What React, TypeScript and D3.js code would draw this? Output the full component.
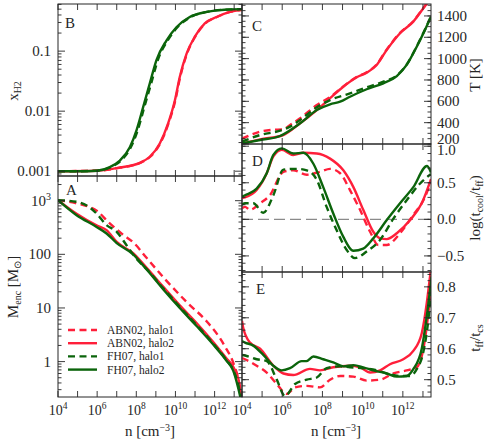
import React from 'react';
import * as d3 from 'd3';

type Pt = [number, number]; // [log10 n, value]

const RED = '#ff1f3a';
const GREEN = '#0b640b';
const SERIF = "'Liberation Serif', 'Times New Roman', serif";
const INK = '#262626';

// x axis, log10 of n [cm^-3]
const nExpRange = [4, 13.4];
const nTickExp = [4, 5, 6, 7, 8, 9, 10, 11, 12, 13];
const nLabelExp = [4, 6, 8, 10, 12];

// B: H2 fraction
const xh2Abn1: Pt[] = [[4, 0.001], [6, 0.00102], [7.18, 0.00115], [8.2, 0.00138], [8.71, 0.00174], [9.22, 0.0029], [9.65, 0.0063], [9.99, 0.015], [10.24, 0.037], [10.59, 0.091], [11.01, 0.174], [11.52, 0.29], [12.12, 0.37], [12.8, 0.45], [13.4, 0.49]];
const xh2Abn2: Pt[] = [[4, 0.001], [6, 0.00102], [7.16, 0.00115], [8.18, 0.00138], [8.69, 0.00174], [9.2, 0.0029], [9.63, 0.0063], [9.97, 0.015], [10.22, 0.037], [10.57, 0.091], [10.99, 0.174], [11.5, 0.29], [12.1, 0.37], [12.78, 0.45], [13.4, 0.49]];
const xh2Fh1: Pt[] = [[4, 0.001], [5, 0.001], [6, 0.00102], [6.7, 0.00117], [7.21, 0.0015], [7.72, 0.0025], [8.07, 0.0048], [8.41, 0.0117], [8.76, 0.029], [9.1, 0.071], [9.6, 0.15], [10.1, 0.25], [10.78, 0.37], [11.62, 0.45], [12.5, 0.49], [13.4, 0.5]];
const xh2Fh2: Pt[] = [[4, 0.001], [5, 0.001], [6, 0.00102], [6.65, 0.00117], [7.16, 0.0015], [7.67, 0.0025], [8.01, 0.0048], [8.35, 0.0117], [8.69, 0.029], [9.03, 0.071], [9.54, 0.15], [10.05, 0.25], [10.73, 0.37], [11.59, 0.45], [12.5, 0.49], [13.4, 0.5]];

// A: enclosed mass [Msun]
const mencAbn1: Pt[] = [[4, 1023], [4.9, 900], [5.5, 790], [6.0, 640], [6.6, 390], [7.3, 236], [7.9, 160], [8.5, 88], [9.46, 34.7], [10.6, 12.6], [11.6, 5.6], [12.5, 2.0], [13.0, 0.85], [13.25, 0.4], [13.38, 0.17]];
const mencAbn2: Pt[] = [[4, 1023], [4.95, 570], [5.97, 347], [6.48, 282], [7.0, 170], [7.84, 105], [8.53, 56], [9.37, 25], [10.22, 11.2], [11.08, 5.25], [11.92, 2.34], [12.6, 1.15], [13.03, 0.71], [13.29, 0.35], [13.38, 0.18]];
const mencFh1: Pt[] = [[4, 1023], [4.95, 955], [5.5, 800], [5.97, 575], [6.48, 350], [7.0, 263], [7.5, 148], [8.0, 83], [8.53, 53], [9.37, 23.5], [10.22, 10.5], [11.08, 4.8], [11.92, 2.2], [12.6, 1.07], [12.95, 0.7], [13.25, 0.32], [13.38, 0.17]];
const mencFh2: Pt[] = [[4, 1023], [4.95, 537], [5.97, 324], [6.48, 245], [7.0, 162], [7.84, 100], [8.53, 52], [9.37, 22.4], [10.22, 10], [11.08, 4.6], [11.92, 2.1], [12.6, 1.05], [12.95, 0.68], [13.2, 0.33], [13.38, 0.17]];

// C: temperature [K]
const tempAbn1: Pt[] = [[4, 250], [4.5, 290], [4.9, 316], [5.5, 333], [6.05, 337], [6.39, 378], [6.89, 441], [7.72, 565], [8.38, 640], [9.04, 740], [9.71, 829], [10.2, 872], [10.7, 946], [11.2, 1086], [11.86, 1242], [12.52, 1351], [13.02, 1476], [13.3, 1547]];
const tempAbn2: Pt[] = [[4, 205], [4.9, 244], [6.05, 284], [6.89, 394], [7.72, 518], [8.38, 629], [9.04, 737], [9.71, 825], [10.2, 868], [10.7, 941], [11.2, 1082], [11.86, 1238], [12.52, 1347], [13.02, 1472], [13.3, 1543]];
const tempFh1: Pt[] = [[4, 222], [4.9, 284], [5.89, 325], [6.39, 363], [6.89, 425], [7.72, 544], [8.38, 612], [9.37, 674], [10.2, 732], [11.03, 784], [11.7, 842], [12.19, 945], [12.69, 1115], [13.1, 1272], [13.4, 1397]];
const tempFh2: Pt[] = [[4, 205], [4.9, 237], [5.89, 275], [6.89, 394], [7.72, 518], [8.38, 572], [8.88, 596], [9.37, 643], [10.2, 713], [11.03, 769], [11.7, 837], [12.19, 941], [12.69, 1112], [13.1, 1269], [13.4, 1394]];

// D: log(t_cool / t_ff)
const coolAbn1: Pt[] = [[4, 0.15], [4.15, 0.17], [4.4, 0.13], [4.9, 0.22], [5.39, 0.33], [6.06, 0.65], [6.55, 0.67], [7.22, 0.61], [7.88, 0.65], [8.38, 0.69], [8.88, 0.63], [9.37, 0.4], [9.87, 0.13], [10.37, -0.17], [10.78, -0.35], [11.2, -0.35], [11.86, -0.19], [12.52, 0.06], [13.02, 0.26], [13.4, 0.51]];
const coolAbn2: Pt[] = [[4, 0.29], [4.15, 0.3], [4.73, 0.4], [5.23, 0.63], [5.56, 0.86], [5.98, 0.95], [6.55, 0.88], [7.05, 0.91], [7.72, 0.9], [8.38, 0.83], [9.04, 0.67], [9.54, 0.44], [10.03, 0.13], [10.53, -0.17], [10.87, -0.26], [11.2, -0.27], [11.7, -0.19], [12.36, -0.01], [12.94, 0.22], [13.4, 0.55]];
const coolFh1: Pt[] = [[4, 0.2], [4.15, 0.22], [4.56, 0.22], [5.06, 0.09], [5.56, 0.33], [6.06, 0.68], [6.72, 0.69], [7.22, 0.67], [7.72, 0.54], [8.21, 0.17], [8.71, -0.15], [9.21, -0.42], [9.62, -0.53], [10.2, -0.44], [10.87, -0.28], [11.53, 0.01], [12.19, 0.26], [12.86, 0.49], [13.4, 0.62]];
const coolFh2: Pt[] = [[4, 0.31], [4.15, 0.33], [4.73, 0.42], [5.23, 0.63], [5.56, 0.88], [5.98, 0.97], [6.55, 0.9], [7.05, 0.91], [7.55, 0.76], [8.04, 0.44], [8.54, 0.08], [9.04, -0.24], [9.54, -0.43], [10.03, -0.4], [10.53, -0.26], [11.2, -0.01], [11.86, 0.22], [12.52, 0.44], [13.2, 0.73], [13.4, 0.64]];

// E: t_ff / t_cs
const tffAbn1: Pt[] = [[4, 0.57], [4.15, 0.566], [4.73, 0.545], [5.23, 0.523], [5.73, 0.486], [6.22, 0.454], [6.64, 0.475], [7.22, 0.48], [7.88, 0.475], [8.38, 0.5], [8.88, 0.512], [9.54, 0.51], [10.2, 0.497], [10.87, 0.5], [11.53, 0.52], [12.19, 0.53], [12.69, 0.54], [13.02, 0.6], [13.27, 0.716], [13.43, 0.82]];
const tffAbn2: Pt[] = [[4, 0.69], [4.06, 0.668], [4.4, 0.62], [4.9, 0.6], [5.56, 0.545], [6.06, 0.52], [6.55, 0.515], [7.38, 0.535], [7.88, 0.53], [8.54, 0.54], [9.37, 0.545], [9.87, 0.54], [10.37, 0.523], [10.87, 0.53], [11.36, 0.55], [12.02, 0.566], [12.52, 0.593], [12.94, 0.65], [13.19, 0.748], [13.35, 0.833], [13.4, 0.86]];
const tffFh1: Pt[] = [[4, 0.58], [4.15, 0.578], [4.73, 0.566], [5.23, 0.56], [5.73, 0.5], [6.14, 0.447], [6.64, 0.486], [7.22, 0.5], [7.72, 0.507], [8.21, 0.537], [8.88, 0.543], [9.37, 0.54], [10.03, 0.537], [10.7, 0.53], [11.2, 0.52], [11.86, 0.512], [12.36, 0.512], [12.69, 0.534], [13.02, 0.59], [13.27, 0.695], [13.43, 0.81]];
const tffFh2: Pt[] = [[4, 0.625], [4.15, 0.62], [4.56, 0.61], [5.06, 0.58], [5.56, 0.545], [5.98, 0.53], [6.39, 0.537], [6.97, 0.56], [7.2, 0.56], [7.55, 0.575], [8.04, 0.566], [8.54, 0.556], [9.04, 0.543], [9.54, 0.547], [10.03, 0.54], [10.53, 0.53], [11.2, 0.52], [11.7, 0.51], [12.19, 0.512], [12.52, 0.534], [12.94, 0.6], [13.19, 0.705], [13.43, 0.833]];

const legendNames = ['ABN02, halo1', 'ABN02, halo2', 'FH07, halo1', 'FH07, halo2'];
const legendColors = [RED, RED, GREEN, GREEN];
const legendDashed = [true, false, true, false];

type Series = { data: Pt[]; color: string; dashed: boolean };
const mk = (sets: Pt[][]): Series[] =>
  sets.map((data, i) => ({ data, color: legendColors[i], dashed: legendDashed[i] }));

type Label = { v: number; text: string; sup?: string; shift?: number };
type PanelCfg = {
  id: string;
  letter: string;
  lx: number;
  ly: number;
  x0: number;
  x1: number;
  y0: number;
  y1: number;
  log: boolean;
  domain: [number, number];
  minorStep?: number;
  majorStep?: number;
  side: 'left' | 'right';
  labels: Label[];
  xLabels: boolean;
  zero?: boolean;
  series: Series[];
};

function logTicks(domain: [number, number]) {
  const major: number[] = [];
  const minor: number[] = [];
  const lo = Math.floor(Math.log10(domain[0]));
  const hi = Math.ceil(Math.log10(domain[1]));
  for (let d = lo; d <= hi; d++) {
    for (let k = 1; k < 10; k++) {
      const v = k * Math.pow(10, d);
      if (v < domain[0] || v > domain[1]) continue;
      if (k === 1) major.push(v);
      else minor.push(v);
    }
  }
  return { major, minor };
}

function Panel({ p }: { p: PanelCfg }) {
  const x = d3.scaleLog().domain([10 ** nExpRange[0], 10 ** nExpRange[1]]).range([p.x0, p.x1]);
  const y = p.log
    ? d3.scaleLog().domain(p.domain).range([p.y1, p.y0])
    : d3.scaleLinear().domain(p.domain).range([p.y1, p.y0]);
  const line = d3
    .line<Pt>()
    .x((d) => x(10 ** d[0]))
    .y((d) => y(d[1]))
    .curve(d3.curveMonotoneX);

  let major: number[];
  let minor: number[];
  if (p.log) {
    ({ major, minor } = logTicks(p.domain));
  } else {
    const eps = 1e-9;
    const first = (step: number) => Math.ceil((p.domain[0] - eps) / step) * step;
    major = d3.range(first(p.majorStep!), p.domain[1] + eps, p.majorStep!);
    minor = d3.range(first(p.minorStep!), p.domain[1] + eps, p.minorStep!);
  }
  const clipId = 'clip-' + p.id;

  return (
    <g>
      <defs>
        <clipPath id={clipId}>
          <rect x={p.x0} y={p.y0} width={p.x1 - p.x0} height={p.y1 - p.y0} />
        </clipPath>
      </defs>
      <g clipPath={`url(#${clipId})`}>
        {p.zero && (
          <line x1={p.x0} x2={p.x1} y1={y(0)} y2={y(0)} stroke="#8a8a8a" strokeWidth={1.3} strokeDasharray="11 5" />
        )}
        {p.series.map((s, i) => (
          <path
            key={i}
            d={line(s.data) || ''}
            fill="none"
            stroke={s.color}
            strokeWidth={2.4}
            strokeDasharray={s.dashed ? '7 4.5' : undefined}
          />
        ))}
      </g>
      <g stroke={INK} strokeWidth={0.9}>
        {minor.map((v, i) => (
          <g key={'mi' + i}>
            <line x1={p.x0} x2={p.x0 + 3.5} y1={y(v)} y2={y(v)} />
            <line x1={p.x1} x2={p.x1 - 3.5} y1={y(v)} y2={y(v)} />
          </g>
        ))}
        {major.map((v, i) => (
          <g key={'ma' + i}>
            <line x1={p.x0} x2={p.x0 + 7} y1={y(v)} y2={y(v)} />
            <line x1={p.x1} x2={p.x1 - 7} y1={y(v)} y2={y(v)} />
          </g>
        ))}
        {nTickExp.map((e) => (
          <g key={'x' + e}>
            <line x1={x(10 ** e)} x2={x(10 ** e)} y1={p.y0} y2={p.y0 + 6} />
            <line x1={x(10 ** e)} x2={x(10 ** e)} y1={p.y1} y2={p.y1 - 6} />
          </g>
        ))}
      </g>
      <rect x={p.x0} y={p.y0} width={p.x1 - p.x0} height={p.y1 - p.y0} fill="none" stroke={INK} strokeWidth={1} />
      <text x={p.lx} y={p.ly} fontSize={15} fill={INK}>
        {p.letter}
      </text>
      {p.labels.map((l, i) => (
        <text
          key={i}
          x={p.side === 'left' ? p.x0 - 7 : p.x1 + 6}
          y={y(l.v) + 5 + (l.shift || 0)}
          fontSize={15}
          fill={INK}
          textAnchor={p.side === 'left' ? 'end' : 'start'}
        >
          {l.text}
          {l.sup && (
            <tspan fontSize={10} dy={-6}>
              {l.sup}
            </tspan>
          )}
        </text>
      ))}
      {p.xLabels &&
        nLabelExp.map((e) => (
          <text key={'xl' + e} x={x(10 ** e)} y={415} fontSize={14} fill={INK} textAnchor="middle">
            10
            <tspan fontSize={9.5} dy={-6}>
              {e}
            </tspan>
          </text>
        ))}
    </g>
  );
}

export default function App() {
  const panels: PanelCfg[] = [
    {
      id: 'B', letter: 'B', lx: 65, ly: 28, x0: 58, x1: 242, y0: 4, y1: 176,
      log: true, domain: [10 ** -3.08, 10 ** -0.215], side: 'left',
      labels: [{ v: 0.001, text: '0.001' }, { v: 0.01, text: '0.01' }, { v: 0.1, text: '0.1' }],
      xLabels: false, series: mk([xh2Abn1, xh2Abn2, xh2Fh1, xh2Fh2]),
    },
    {
      id: 'A', letter: 'A', lx: 66, ly: 195, x0: 58, x1: 242, y0: 176, y1: 397,
      log: true, domain: [10 ** -0.66, 10 ** 3.46], side: 'left',
      labels: [{ v: 1, text: '1' }, { v: 10, text: '10' }, { v: 100, text: '100' }, { v: 1000, text: '10', sup: '3' }],
      xLabels: true, series: mk([mencAbn1, mencAbn2, mencFh1, mencFh2]),
    },
    {
      id: 'C', letter: 'C', lx: 252, ly: 31, x0: 242, x1: 431, y0: 4, y1: 144,
      log: false, domain: [200, 1512], majorStep: 200, minorStep: 50, side: 'right',
      labels: [200, 400, 600, 800, 1000, 1200, 1400].map((v) => ({ v, text: String(v), shift: v === 200 ? -5 : 0 })),
      xLabels: false, series: mk([tempAbn1, tempAbn2, tempFh1, tempFh2]),
    },
    {
      id: 'D', letter: 'D', lx: 252, ly: 166, x0: 242, x1: 431, y0: 144, y1: 272,
      log: false, domain: [-0.72, 1.03], majorStep: 0.5, minorStep: 0.1, side: 'right',
      labels: [{ v: 1, text: '1.0', shift: 4 }, { v: 0.5, text: '0.5' }, { v: 0, text: '0.0' }, { v: -0.5, text: '\u22120.5' }],
      xLabels: false, zero: true, series: mk([coolAbn1, coolAbn2, coolFh1, coolFh2]),
    },
    {
      id: 'E', letter: 'E', lx: 256, ly: 294, x0: 242, x1: 431, y0: 272, y1: 397,
      log: false, domain: [0.444, 0.848], majorStep: 0.1, minorStep: 0.02, side: 'right',
      labels: [0.5, 0.6, 0.7, 0.8].map((v) => ({ v, text: v.toFixed(1) })),
      xLabels: true, series: mk([tffAbn1, tffAbn2, tffFh1, tffFh2]),
    },
  ];

  return (
    <svg
      width={485}
      height={443}
      fontFamily={SERIF}
      style={{ position: 'absolute', left: 0, top: 0, display: 'block' }}
    >
      <rect width={485} height={443} fill="#fff" />
      {panels.map((p) => (
        <Panel key={p.id} p={p} />
      ))}

      {/* legend */}
      {legendNames.map((name, i) => {
        const ly = 330 + i * 13.2;
        return (
          <g key={name}>
            <line
              x1={68}
              x2={97}
              y1={ly}
              y2={ly}
              stroke={legendColors[i]}
              strokeWidth={2.4}
              strokeDasharray={legendDashed[i] ? '7 4.5' : undefined}
            />
            <text x={107} y={ly + 4} fontSize={11.5} fill={INK}>
              {name}
            </text>
          </g>
        );
      })}

      {/* axis titles */}
      <text x={150} y={436} fontSize={15} fill={INK} textAnchor="middle">
        n [cm<tspan fontSize={10} dy={-5}>{'\u22123'}</tspan>
        <tspan dy={5}>]</tspan>
      </text>
      <text x={336} y={436} fontSize={15} fill={INK} textAnchor="middle">
        n [cm<tspan fontSize={10} dy={-5}>{'\u22123'}</tspan>
        <tspan dy={5}>]</tspan>
      </text>
      <text transform="translate(18,91) rotate(-90)" fontSize={15} fill={INK} textAnchor="middle">
        x<tspan fontSize={10} dy={3}>H2</tspan>
      </text>
      <text transform="translate(18,287) rotate(-90)" fontSize={15} fill={INK} textAnchor="middle">
        M<tspan fontSize={10} dy={3}>enc</tspan>
        <tspan dy={-3}> [M</tspan>
        <tspan fontSize={10} dy={3}>{'\u2299'}</tspan>
        <tspan dy={-3}>]</tspan>
      </text>
      <text transform="translate(480,75) rotate(-90)" fontSize={15} fill={INK} textAnchor="middle">
        T [K]
      </text>
      <text transform="translate(480,208) rotate(-90)" fontSize={15} fill={INK} textAnchor="middle">
        log(t<tspan fontSize={10} dy={3}>cool</tspan>
        <tspan dy={-3}>/t</tspan>
        <tspan fontSize={10} dy={3}>ff</tspan>
        <tspan dy={-3}>)</tspan>
      </text>
      <text transform="translate(480,338) rotate(-90)" fontSize={15} fill={INK} textAnchor="middle">
        t<tspan fontSize={10} dy={3}>ff</tspan>
        <tspan dy={-3}>/t</tspan>
        <tspan fontSize={10} dy={3}>cs</tspan>
      </text>
    </svg>
  );
}
